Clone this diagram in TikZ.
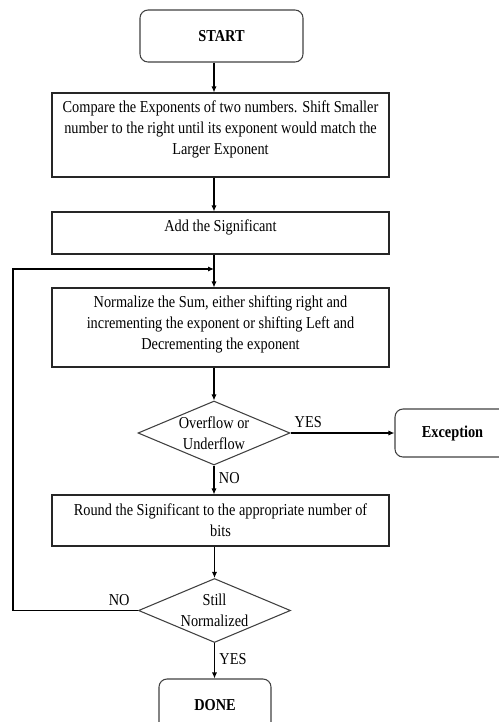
\documentclass[tikz,border=0pt]{standalone}
\usepackage{fontspec}
\setmainfont{Liberation Serif}[FakeStretch=0.86]
\usetikzlibrary{shapes.geometric,arrows.meta}

\begin{document}
\begin{tikzpicture}
		[x=0.75pt, y=-0.75pt, line width=0.8pt,
		every node/.style={align=center,font=\fontsize{12.5}{15.75}\selectfont},
		terminal/.style={draw=black!75,rounded corners=6pt,minimum height=39pt,font=\fontsize{12.5}{15.75}\selectfont\bfseries},
		process/.style={draw=black!85,minimum width=252.75pt},
		decision/.style={draw=black!75,diamond,aspect=2.4,inner sep=0pt,minimum width=114pt,minimum height=48pt},
		arr/.style={-{Latex[length=4.5pt,width=3.8pt]}},
		]
		\useasboundingbox (0,0) rectangle (499,722);

		\node[terminal,minimum width=122.25pt] (start) at (221.5,36) {START};
		\node[process,minimum height=63pt,text depth=11.7pt] (cmp) at (220.5,135)
			{Compare the Exponents of two numbers. Shift Smaller\\
			number to the right until its exponent would match the\\
			Larger Exponent};
		\node[process,minimum height=31.5pt,text depth=11.7pt] (add) at (220.5,233) {Add the Significant};
		\node[process,minimum height=59.25pt,text depth=8pt] (norm) at (220.5,327.5)
			{Normalize the Sum, either shifting right and\\
			incrementing the exponent or shifting Left and\\
			Decrementing the exponent};
		\node[decision] (ovf) at (214,433) {Overflow or\\Underflow};
		\node[terminal,minimum width=86.25pt,minimum height=36pt] (exc) at (452.5,433) {Exception};
		\node[process,minimum height=38.25pt] (rnd) at (220.5,520.5)
			{Round the Significant to the appropriate number of\\bits};
		\node[decision] (still) at (214.5,610.5) {Still\\Normalized};
		\node[terminal,minimum width=84pt] (done) at (215,705) {DONE};

		\coordinate (loop) at (13,269);
		\coordinate (merge) at (214,269);

		\draw[arr] (start.south -| ovf.north) -- (cmp.north -| ovf.north);
		\draw[arr] (cmp.south -| ovf.north) -- (add.north -| ovf.north);
		\draw[arr] (add.south -| ovf.north) -- (norm.north -| ovf.north);
		\draw[arr] (norm.south -| ovf.north) -- (ovf.north);
		\draw[arr] (ovf.east) -- node[above,pos=.17]{YES} (exc.west);
		\draw[arr] (ovf.south) -- node[right,pos=.45]{NO} (rnd.north -| ovf.south);
		\draw[arr] (rnd.south -| still.north) -- (still.north);
		\draw[arr] (still.south) -- node[right,pos=.45]{YES} (done.north -| still.south);
		% zurueck zum Normalisieren
		\draw[arr] (still.west) -- node[above,pos=.15]{NO} (still.west -| loop) -- (loop) -- (merge);
	\end{tikzpicture}
\end{document}
